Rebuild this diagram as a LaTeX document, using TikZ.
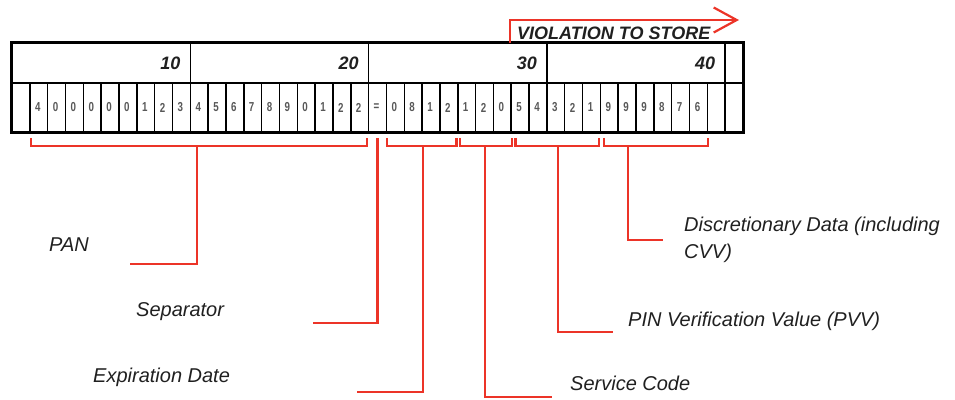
\documentclass[tikz,border=0pt]{standalone}
\usepackage{fontspec}
\setmainfont{Liberation Sans}
\newfontfamily\digitfont[FakeStretch=0.75]{Liberation Sans}
\usetikzlibrary{positioning,arrows.meta}

\definecolor{brace}{RGB}{236,52,40}
\definecolor{ink}{RGB}{32,32,32}

\tikzset{
  cellbox/.style={draw,line width=1.5pt,minimum width=17.83pt,minimum height=49pt,
    inner sep=0pt,text=ink!75,font=\digitfont\bfseries\fontsize{13}{13}\selectfont},
  headbox/.style={draw,line width=1.5pt,minimum height=40pt,inner sep=0pt},
  headnum/.style={headbox,minimum width=178.3pt,text width=158.3pt,align=right,
    text=ink,font=\bfseries\itshape\fontsize{18}{18}\selectfont},
  tag/.style={anchor=base west,inner sep=0pt,text=ink,
    font=\itshape\fontsize{20}{26.7}\selectfont},
  brace/.style={draw=brace,line width=2.2pt},
}

\begin{document}
\begin{tikzpicture}[x=1pt,y=-1pt]
    \useasboundingbox (0,0) rectangle (955,399);

    % track data, one character per cell
    \foreach \d [count=\i] in {{},4,0,0,0,0,0,1,2,3,4,5,6,7,8,9,0,1,2,2,=,0,8,1,2,1,2,0,5,4,3,2,1,9,9,9,8,7,6,{},{}}
        \node[cellbox] (c\i) at ({12+(\i-0.5)*17.83},107.5) {\d\kern2pt};

    % position counter
    \foreach \n [count=\i] in {10,20,30,40}
        \node[headnum] (t\i) at ({12+(\i-0.5)*178.3},63) {\n};
    \node[headbox,minimum width=17.83pt] (t5) at (734.1,63) {};
    \draw[line width=2pt] (t1.north west) rectangle (c41.south east);

    % violation marker
    \coordinate (vstart) at (510,43);
    \coordinate (vend) at (739,20);
    \draw[brace,-{Straight Barb[length=23pt,width=25pt,line width=2.2pt]}] (vstart) |- (vend);
    \node[anchor=base west,inner sep=0pt,text=ink,font=\bfseries\itshape\fontsize{18}{18}\selectfont]
        (vio) at (517,39) {VIOLATION TO STORE};

    % field labels
    \node[tag] (pan) at (49,251.7) {PAN};
    \node[tag] (sep) at (136,316.7) {Separator};
    \node[tag] (exp) at (93,382) {Expiration Date};
    \node[tag] (svc) at (570,390) {Service Code};
    \node[tag] (pvv) at (628,326) {PIN Verification Value (PVV)};
    \node[tag,align=left] (dsc) at (684,258.4) {Discretionary Data (including\\CVV)};

    \coordinate (pantop) at (197,145);
    \coordinate (panend) at (130,264);
    \coordinate (sepend) at (313,323);
    \coordinate (exptop) at (423,145);
    \coordinate (expend) at (357,392);
    \coordinate (svctop) at (485,145);
    \coordinate (svcend) at (552,397);
    \coordinate (pvvtop) at (558,145);
    \coordinate (pvvend) at (613,332);
    \coordinate (dsctop) at (628,145);
    \coordinate (dscend) at (663,240);

    % brackets under the cells
    \draw[brace] ([xshift=2pt,yshift=-5pt]c2.south west) -- ++(0,8) -| ([xshift=-2pt,yshift=-5pt]c20.south east);
    \draw[brace] ([xshift=1pt,yshift=-5pt]c22.south west) -- ++(0,8) -| ([xshift=-2pt,yshift=-5pt]c25.south east);
    \draw[brace] ([xshift=3pt,yshift=-5pt]c26.south west) -- ++(0,8) -| ([xshift=0pt,yshift=-5pt]c28.south east);
    \draw[brace] ([xshift=5pt,yshift=-5pt]c29.south west) -- ++(0,8) -| ([xshift=-2pt,yshift=-5pt]c33.south east);
    \draw[brace] ([xshift=4pt,yshift=-5pt]c34.south west) -- ++(0,8) -| ([xshift=0pt,yshift=-5pt]c39.south east);

    % leaders to the labels
    \draw[brace] (pantop) |- (panend);
    \draw[brace] ([yshift=-5pt]c21.south) |- (sepend);
    \draw[brace] (exptop) |- (expend);
    \draw[brace] (svctop) |- (svcend);
    \draw[brace] (pvvtop) |- (pvvend);
    \draw[brace] (dsctop) |- (dscend);
\end{tikzpicture}
\end{document}
